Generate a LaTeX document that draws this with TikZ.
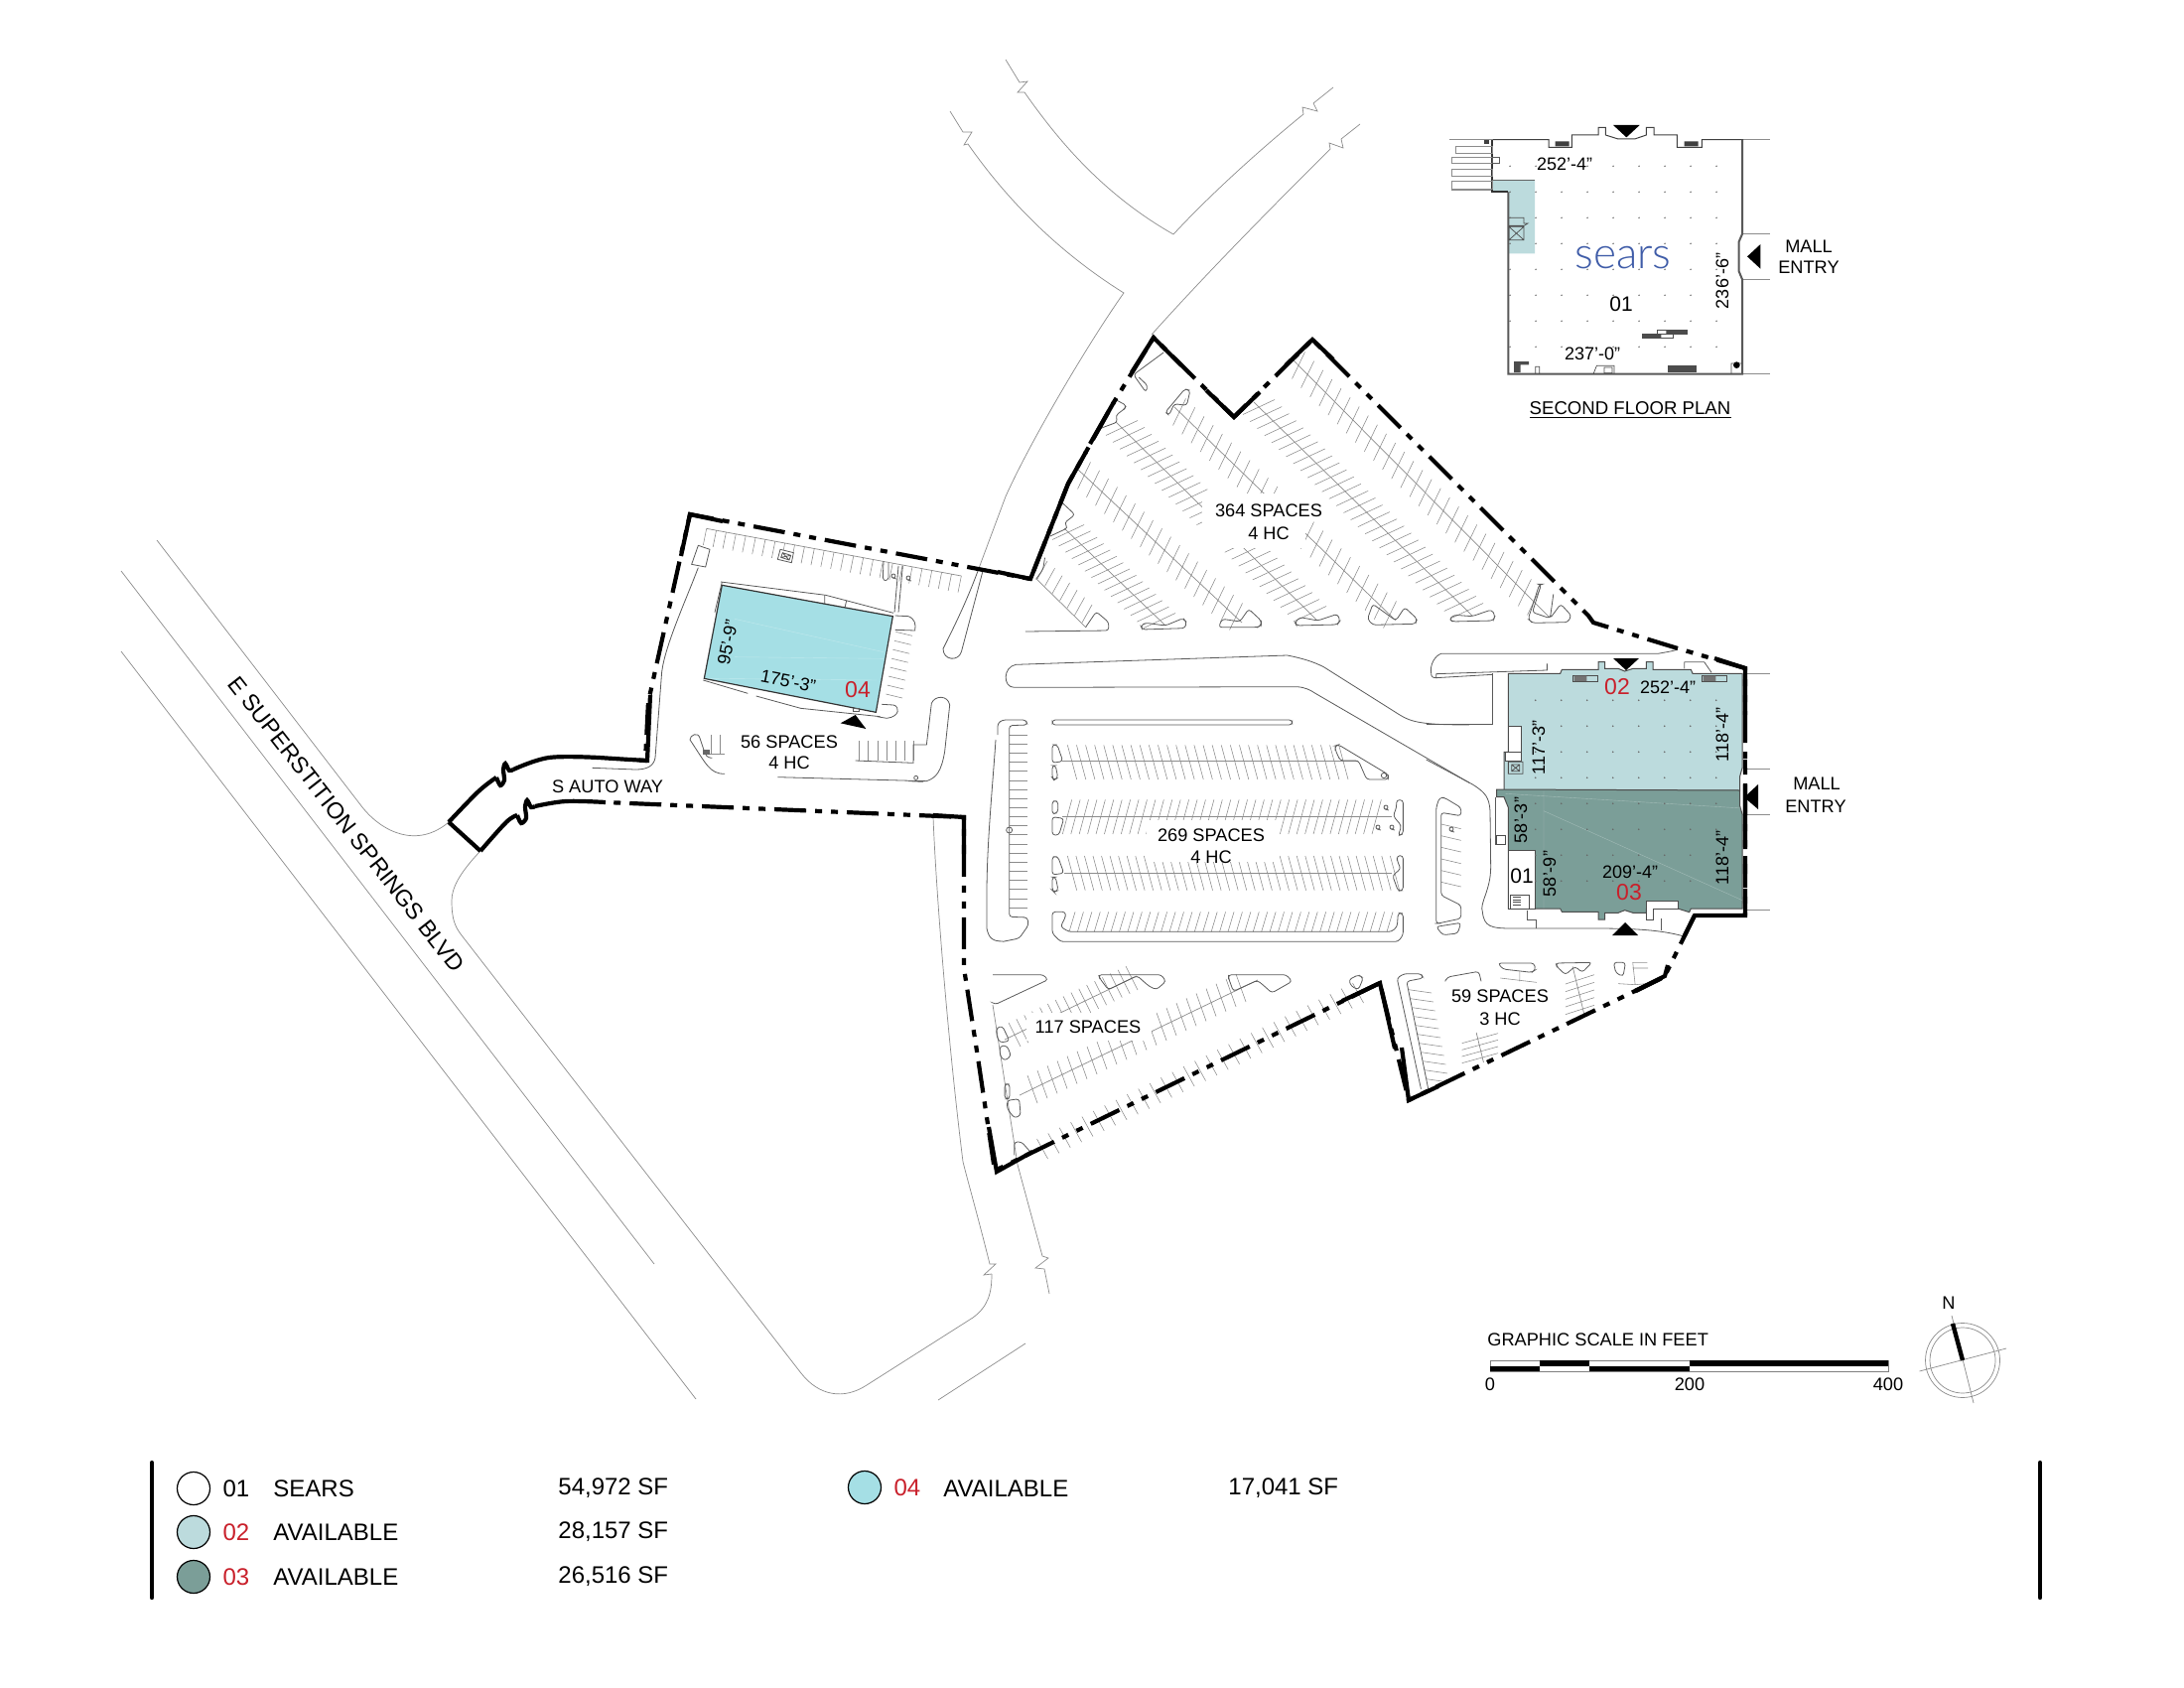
\documentclass[tikz,border=0pt]{standalone}
\usepackage{fontspec}
\setmainfont{Liberation Sans}
\newfontfamily\logofont{Lato Light}
\usetikzlibrary{positioning}
\definecolor{suitetwo}{HTML}{BCDBDD}
\definecolor{suitethree}{HTML}{7B9E98}
\definecolor{suitefour}{HTML}{A5DFE5}
\definecolor{suitered}{HTML}{C9202B}
\definecolor{searsblue}{HTML}{3F5CA8}
\definecolor{roadgray}{HTML}{8C8C8C}
\definecolor{curbgray}{HTML}{5A5A5A}
\newcommand{\stalls}[7]{%
  \foreach \i in {0,...,#5}{%
    \pgfmathsetmacro\sx{#1+(#3-#1)/#5*\i}%
    \pgfmathsetmacro\sy{#2+(#4-#2)/#5*\i}%
    \draw[stall] (\sx-#6,\sy-#7) -- (\sx+#6,\sy+#7);
  }%
}
\newcommand{\hcmark}[2]{\draw[curb] (#1,#2) circle (2) (#1-1,#2+2) -- (#1+3,#2+3);}
\tikzset{
  road/.style={draw=roadgray,line width=.35pt},
  curb/.style={draw=curbgray,line width=.4pt},
  island/.style={draw=curbgray,line width=.4pt,rounded corners=1.5pt},
  stall/.style={draw=roadgray,line width=.28pt},
  spine/.style={draw=roadgray,line width=.35pt},
  bound/.style={line width=2.1pt,dash pattern=on 16pt off 4.5pt on 3.5pt off 4.5pt on 3.5pt off 4.5pt},
  boundsolid/.style={line width=2.1pt,line join=miter},
  entry/.style={fill=black},
  wall/.style={draw=black!75,line width=.5pt},
  inplan/.style={shift={(1420,110)},x=.16667pt,y=-.16667pt},
  instore/.style={shift={(1440,640)},x=.16667pt,y=-.16667pt},
  inpad/.style={shift={(640,500)},x=.16667pt,y=-.16667pt},
  inmid/.style={shift={(1000,640)},x=.16667pt,y=-.16667pt},
  inlot/.style={shift={(1040,330)},x=.17857pt,y=-.16667pt},
  insouth/.style={shift={(1000,960)},x=.24237pt,y=-.16667pt},
  dimtext/.style={font=\fontsize{9}{11}\selectfont},
  suitenum/.style={font=\fontsize{11.5}{13}\selectfont,text=suitered},
  legtext/.style={anchor=west,font=\fontsize{12}{14}\selectfont},
  legdot/.style={circle,draw=black,line width=.6pt,minimum size=16.5pt}
}
\begin{document}
\begin{tikzpicture}[
    x=.5pt,y=-.5pt,
    every node/.style={font=\fontsize{9.1}{11}\selectfont,inner sep=0pt}
  ]
    \useasboundingbox (0,0) rectangle (2200,1700);
    \fill[white] (0,0) rectangle (2200,1700);

    % Streets
    \draw[road] (122,575) -- (659,1273);
    \draw[road] (122,656) -- (701,1409);
    \draw[road] (158,544) -- (365,813) .. controls (385,838) and (420,855) .. (452,828);
    \draw[road] (484,857) .. controls (462,880) and (455,895) .. (455,907) .. controls (455,925) and (458,933) .. (465,942) -- (807,1383)
      .. controls (825,1406) and (850,1410) .. (873,1395) -- (980,1327) .. controls (995,1316) and (999,1303) .. (999,1283);
    \draw[road] (999,1283) -- (991,1284) -- (1003,1273) -- (997,1273)
      .. controls (985,1225) and (975,1190) .. (970,1170) .. controls (955,1050) and (943,900) .. (940,823);
    \draw[road] (1000,1012) -- (1025,1173) -- (1050,1265) -- (1056,1267) -- (1043,1277) -- (1052,1278) -- (1057,1303);
    \draw[road] (1033,1353) -- (945,1410);
    \draw[road] (1013,60) -- (1027,83) -- (1035,82) -- (1025,93) -- (1032,93)
      .. controls (1065,140) and (1110,195) .. (1182,236) .. controls (1220,195) and (1270,150) .. (1313,115)
      -- (1312,108) -- (1327,112) -- (1323,104) -- (1343,88);
    \draw[road] (957,112) -- (970,133) -- (979,133) -- (971,146) -- (975,145)
      .. controls (1010,195) and (1060,250) .. (1132,295) .. controls (1100,340) and (1040,440) .. (1013,500) -- (985,575);
    \draw[road] (1160,337) .. controls (1220,270) and (1290,200) .. (1340,150)
      -- (1339,144) -- (1353,149) -- (1351,140) -- (1370,125);

    % 364 spaces
    \draw[spine] (1044,583) -- (1094,632);
    \stalls{1050}{574}{1095}{618}{6}{5}{-9}
    \draw[spine] (1072,532) -- (1174,630);
    \stalls{1076}{536}{1168}{625}{14}{16}{-7.5}
    \draw[spine] (1086,473) -- (1251,627);
    \stalls{1092}{479}{1245}{621}{17}{6.5}{-13.5}
    \draw[spine] (1124,425) -- (1327,625);
    \stalls{1130}{431}{1320}{618}{27}{16}{-7.5}
    \draw[spine] (1183,410) -- (1406,625);
    \stalls{1188}{415}{1400}{619}{23}{6.5}{-13.5}
    \draw[spine] (1263,405) -- (1483,620);
    \stalls{1268}{410}{1478}{615}{29}{16}{-7.5}
    \draw[spine] (1302,362) -- (1561,622);
    \stalls{1308}{368}{1545}{606}{26}{6.5}{-13.5}
    \fill[white] (1211,497) rectangle (1315,552);
    \begin{scope}[inlot]
      \draw[island] (-20,918) -- (215,915) -- (215,890) -- (180,858) -- (150,905);
      \draw[island] (305,900) -- (320,892) -- (375,900) -- (425,878) -- (435,890) -- (430,908) -- (310,912) -- cycle;
      \draw[island] (525,905) -- (535,880) -- (585,888) -- (610,850) -- (645,885) -- (645,900) -- (635,905) -- cycle;
      \draw[island] (740,890) -- (755,875) -- (805,885) -- (860,865) -- (868,885) -- (860,897) -- (745,900) -- cycle;
      \draw[island] (945,880) -- (960,835) -- (1025,885) -- (1050,845) -- (1085,880) -- (1080,895) -- (960,898) -- cycle;
      \draw[island] (1175,880) -- (1190,868) -- (1240,872) -- (1295,852) -- (1305,870) -- (1300,885) -- (1185,888) -- cycle;
      \draw[island] (1398,880) -- (1430,775) -- (1435,775) -- (1410,860) -- (1460,878) -- (1470,800) -- (1460,878) -- (1490,835) -- (1520,870) -- (1510,890) -- (1410,892) -- cycle;
      \draw[island] (370,75) -- (285,142) -- (320,195) -- (325,175) -- (300,150);
      \draw[island] (230,215) -- (265,235) -- (260,245) -- (235,265) -- (240,285) -- (190,305);
      \draw[island] (85,530) -- (120,565) -- (90,590) -- (100,605) -- (50,630);
      \draw[island] (375,255) -- (395,230) -- (430,185) -- (445,190) -- (435,235) -- (400,230) -- (385,265) -- cycle;
      \draw[island] (35,695) -- (30,730) -- (10,760);
    \end{scope}

    % 269 spaces
    \begin{scope}[inmid]
      \draw[curb] (65,157) .. controls (30,157) and (30,95) .. (70,88) -- (890,60)
        .. controls (940,70) and (970,80) .. (1000,95) -- (1230,240) .. controls (1265,262) and (1300,270) .. (1440,270);
      \draw[curb] (65,157) -- (920,155) .. controls (945,157) and (960,165) .. (975,175) -- (1440,445);
      \draw[island] (180,255) -- (905,255) -- (905,270) -- (180,270) -- cycle;
      \draw[spine] (210,380) -- (1105,380) (210,548) -- (1205,548) (215,718) -- (1205,718);
      \stalls{240}{383}{1060}{383}{30}{14}{52}
      \stalls{225}{548}{1160}{548}{37}{14}{-52}
      \stalls{240}{718}{1215}{718}{38}{14}{52}
      \stalls{240}{865}{1200}{865}{38}{9}{-30}
      \stalls{78}{300}{78}{822}{19}{28}{0}
      \fill[white] (465,558) rectangle (860,685);
      \draw[island] (180,330) -- (195,330) -- (212,380) -- (180,385) -- cycle;
      \draw[island] (180,393) -- (190,393) -- (197,430) -- (185,437) -- (180,430) -- cycle;
      \draw[island] (180,500) -- (197,500) -- (197,535) -- (180,540) -- cycle;
      \draw[island] (180,548) -- (215,553) -- (200,603) -- (180,603) -- cycle;
      \draw[island] (180,668) -- (197,668) -- (215,718) -- (180,723) -- cycle;
      \draw[island] (180,730) -- (190,730) -- (198,770) -- (185,775) -- (180,770) -- cycle;
      \draw[island] (1220,497) -- (1240,497) -- (1240,600) -- (1225,605) -- (1235,575) -- (1210,545) -- (1220,520) -- cycle;
      \draw[island] (1222,665) -- (1240,665) -- (1240,770) -- (1225,772) -- (1208,725) -- (1233,705) -- (1222,680) -- cycle;
      \draw[island] (1035,333) -- (1045,330) -- (1195,420) -- (1195,435) -- (1130,435) -- (1105,378) -- (1050,378) -- (1035,345) -- cycle;
      \draw[curb] (1182,423) circle (8);
      \draw[island] (180,835) -- (220,835) -- (220,850) -- (205,880) -- (230,895) -- (1205,895) -- (1222,880) -- (1225,838) -- (1240,840) -- (1240,905) -- (1225,925) -- (205,925) -- (180,900) -- cycle;
      \draw[island] (15,300) -- (15,265) -- (30,255) -- (100,255) -- (105,270) -- (50,272) -- (50,850) -- (105,852) -- (108,875) -- (80,915) -- (30,925);
      \draw[island] (1340,520) -- (1350,490) -- (1365,490) -- (1415,520) -- (1415,545) -- (1355,535) -- (1355,785) -- (1415,815) -- (1415,855) -- (1345,870) -- (1340,870) -- cycle;
      \draw[island] (1340,880) -- (1415,868) -- (1405,900) -- (1360,905) -- cycle;
      \stalls{1385}{577}{1385}{752}{5}{30}{7}
      \draw[curb] (50,588) circle (9);
    \end{scope}
    \draw[curb] (1003,745) .. controls (1000,790) and (994,850) .. (994,900) -- (994,935) .. controls (996,945) and (1000,948) .. (1010,948);
    \hcmark{1396}{813}
    \hcmark{1388}{833}
    \hcmark{1402}{833}
    \hcmark{1462}{835}

    % 117 spaces
    \draw[spine] (1012,1047) -- (1145,983);
    \stalls{1022}{1042}{1140}{985}{15}{6}{12}
    \draw[spine] (1027,1103) -- (1267,987);
    \stalls{1040}{1097}{1250}{995}{21}{5}{14}
    \stalls{1050}{1157}{1368}{1000}{28}{-5.5}{-10}
    \fill[white] (1034,1020) rectangle (1160,1048);
    \begin{scope}[insouth]
      \draw[island] (0,65) -- (105,65) -- (115,80) -- (5,155) -- (0,150);
      \draw[island] (220,65) -- (350,65) -- (360,85) -- (340,110) -- (325,100) -- (300,68) -- (240,110) -- (222,75) -- cycle;
      \draw[island] (490,65) -- (610,65) -- (622,85) -- (580,120) -- (565,100) -- (550,82) -- (500,115) -- (490,75) -- cycle;
      \draw[island] (740,80) -- (760,65) -- (770,75) -- (760,110) -- (745,100) -- cycle;
      \draw[island] (8,225) -- (20,220) -- (35,265) -- (15,270) -- (8,250) -- cycle;
      \draw[island] (15,280) -- (30,280) -- (38,310) -- (25,325) -- (15,310) -- cycle;
      \draw[island] (25,395) -- (35,395) -- (35,440) -- (25,440) -- cycle;
      \draw[island] (30,445) -- (55,440) -- (58,490) -- (45,498) -- (30,470) -- cycle;
      \draw[island] (45,610) -- (45,570) -- (60,570) -- (78,600);
      % 59 spaces
      \draw[island] (890,410) -- (840,75) -- (855,62) -- (890,62) -- (895,75) -- (860,85) -- (905,410);
      \foreach \sy in {110,137,...,385}{%
        \pgfmathsetmacro\sx{860+(\sy-80)*.136}
        \draw[stall] (\sx,\sy) -- (\sx+48,\sy+10);
      }
      \draw[spine] (1005,240) -- (1020,330);
      \foreach \sy in {272,292,312,332}{\draw[stall] (975,\sy) -- (1050,\sy-30);}
      \draw[spine] (1205,40) -- (1230,190);
      \foreach \sy in {93,116,139,162,185}{\draw[stall] (1190,\sy) -- (1250,\sy-28);}
      \draw[island] (940,85) -- (945,72) -- (1010,55) -- (1015,85);
      \draw[island] (1050,30) -- (1125,30) -- (1128,50) -- (1120,58) -- (1060,48) -- cycle;
      \draw[stall] (1055,75) -- (1130,88) (1095,55) -- (1095,85);
      \draw[island] (1170,30) -- (1245,28) -- (1225,58) -- (1210,40) -- (1190,65) -- (1172,40) -- cycle;
      \draw[island] (1290,28) -- (1315,28) -- (1310,70) -- (1295,60) -- cycle;
      \draw[stall] (1330,28) -- (1335,95) -- (1300,92) (1330,28) -- (1360,28) (1330,45) -- (1362,45) (1335,95) -- (1375,90);
    \end{scope}

    % Pad site
    \begin{scope}[inpad]
      \draw[spine] (215,97) -- (985,240);
      \stalls{210}{122}{980}{265}{26}{5}{-25}
      \draw[curb,fill=white] (438,160) -- (478,170) -- (472,200) -- (430,190) -- cycle (445,170) -- (470,178) -- (465,192) -- (440,184) -- cycle (445,170) -- (465,192) (470,178) -- (440,184);
      \draw[curb,fill=white] (190,148) -- (225,160) -- (212,213) -- (170,205) -- cycle;
      \draw[curb] (1035,225) .. controls (1000,320) and (960,400) .. (930,460) .. controls (930,495) and (975,500) .. (985,470) -- (1050,225);
      \draw[curb] (190,215) .. controls (150,320) and (90,450) .. (80,530) -- (60,790) .. controls (55,815) and (35,825) .. (0,825);
      \draw[curb] (-130,820) -- (0,825);
      \draw[curb] (258,258) -- (575,298) -- (640,315) -- (780,352);
      \draw[curb] (262,258) -- (240,350);
      \draw[curb] (205,555) -- (340,595) (365,603) -- (500,640) -- (740,665);
      \draw[curb] (572,298) -- (572,325) (638,315) -- (632,340);
      \draw[curb] (785,360) -- (825,362) .. controls (845,370) and (848,385) .. (845,405) -- (785,403);
      \draw[curb] (745,628) -- (780,630) .. controls (800,635) and (800,665) .. (760,670) -- (730,665);
      \stalls{812}{415}{782}{603}{7}{25}{6}
      \draw[curb] (795,210) -- (783,350) (808,210) -- (795,350) (750,195) -- (748,245) .. controls (750,258) and (762,255) .. (765,245) -- (765,200);
      % 56 spaces
      \stalls{677}{768}{840}{768}{6}{0}{30}
      \draw[curb] (665,798) -- (840,805) -- (840,750) -- (880,750) -- (895,625)
        .. controls (905,600) and (945,600) .. (950,630) -- (935,770) .. controls (925,830) and (910,850) .. (880,860) -- (430,848);
      \draw[curb] (270,838) .. controls (225,838) and (215,810) .. (165,735) .. controls (165,720) and (190,710) .. (195,730) -- (210,775) .. controls (215,790) and (230,790) .. (232,790);
      \draw[stall] (228,720) -- (228,778) (255,720) -- (255,778) (210,778) -- (270,778);
      \draw[curb] (848,850) circle (6) (825,860) -- (870,862);
      \fill[black!60] (205,765) rectangle (225,780);
      % Suite 04
      \draw[fill=suitefour,draw=black!80,line width=.6pt] (262,268) -- (778,362) -- (727,652) -- (208,550) -- cycle;
      \draw[white,line width=.2pt,opacity=.3] (300,370) -- (750,470) (300,485) -- (750,490) (220,550) -- (730,555);
      \fill[entry] (620,685) -- (697,702) -- (665,660) -- cycle;
      \draw[curb] (658,640) rectangle (676,650);
    \end{scope}
    \hcmark{900}{580}
    \hcmark{915}{582}

    % Store
    \begin{scope}[instore]
      \draw[curb] (-10,375) -- (130,450) .. controls (170,475) and (180,490) .. (183,530) -- (185,700) .. controls (185,770) and (150,810) .. (160,835) .. controls (165,880) and (185,885) .. (250,885) -- (500,885) .. controls (620,885) and (700,890) .. (765,908);
      \draw[curb] (-10,268) -- (190,268) -- (190,115);
      \draw[curb] (5,115) .. controls (0,90) and (15,62) .. (35,55) -- (690,55) .. controls (715,50) and (735,48) .. (750,42);
      \draw[curb] (20,128) -- (20,116) -- (355,105) -- (355,85) (5,115) .. controls (5,125) and (10,128) .. (20,128) -- (190,118);
      \draw[curb] (770,80) -- (830,80) -- (852,112) (770,80) -- (770,100);
      \draw[curb] (200,488) -- (200,630) -- (230,630) -- (230,605) -- (200,605);
      \draw[curb] (295,830) -- (295,860) -- (322,860) -- (322,885) (700,855) -- (700,890);
      \draw[fill=suitetwo,draw=black!70,line width=.5pt] (238,115) -- (395,115) -- (400,103) -- (510,103) -- (510,80) -- (530,80) -- (530,100) -- (570,100) -- (590,108) -- (615,100) -- (655,100) -- (655,80) -- (675,80) -- (675,103) -- (790,103) -- (795,115) -- (945,115) -- (945,400) -- (938,425) -- (938,468) -- (225,468) -- (225,352) -- (238,352) -- cycle;
      \draw[fill=suitethree,draw=black!70,line width=.5pt] (203,465) -- (938,468) -- (938,515) -- (945,540) -- (945,825) -- (790,825) -- (785,836) -- (750,825) -- (655,825) -- (655,838) -- (615,838) -- (590,830) -- (570,838) -- (530,838) -- (530,858) -- (510,858) -- (510,835) -- (400,835) -- (395,825) -- (238,825) -- (238,520) -- (225,488) -- (203,488) -- cycle;
      \draw[white,line width=.2pt,opacity=.3] (345,470) -- (345,825) (345,530) -- (945,800) (230,478) -- (945,522);
      \draw[black!70,fill=white,line width=.4pt] (238,275) rectangle (277,352);
      \draw[black!70,fill=white,line width=.4pt] (228,352) rectangle (277,378);
      \draw[black!70,line width=.4pt] (238,382) rectangle (282,418) (248,390) rectangle (272,410) (248,390) -- (272,410) (272,390) -- (248,410);
      \draw[black!70,fill=white,line width=.4pt] (238,648) rectangle (318,825);
      \draw[black!70,line width=.35pt] (245,785) rectangle (300,825);
      \foreach \sy in {790,798,806,814}{\draw[black!70,line width=.3pt] (252,\sy) -- (275,\sy);}
      \draw[black!70,fill=white,line width=.4pt] (655,803) -- (750,803) -- (750,825) -- (675,825) -- (675,860) -- (655,860) -- cycle;
      \draw[black!70,line width=.35pt] (432,120) rectangle (508,140) (822,120) rectangle (898,140);
      \fill[black!55] (437,122) rectangle (475,138) (827,122) rectangle (865,138);
      \draw[black!70,fill=white,line width=.3pt] (203,605) rectangle (228,630);
    \end{scope}
    \foreach \cx in {0,...,7}{%
      \foreach \cy in {0,...,7}{%
        \fill[black!60] (1546.7+26*\cx,705.3+26*\cy) circle (.9);
      }
    }
    \draw[road] (1758,678) -- (1783,678) (1758,774) -- (1783,774) (1758,820) -- (1783,820) (1758,916) -- (1783,916);
    \fill[entry] (1625,663) -- (1651,663) -- (1638,675) -- cycle;
    \fill[entry] (1624,942) -- (1650,942) -- (1637,929) -- cycle;

    % Site boundary
    \draw[bound] (603,763) -- (650,766) -- (653,707) -- (695,518) -- (1038,583) -- (1076,487) -- (1122,405) -- (1162,340) -- (1243,420) -- (1322,342)
      -- (1600,620) -- (1605,627) -- (1690,653) -- (1758,673) -- (1758,922);
    \draw[bound] (1707,922) -- (1677,983) -- (1674,985) -- (1419,1108) -- (1390,990) -- (1390,990);
    \draw[bound] (1390,990) -- (1002,1179) -- (985,1065) -- (971,975) -- (971,823) -- (610,808);
    % solid runs
    \draw[boundsolid] plot[smooth,tension=.6] coordinates {(452,828) (482,797) (500,783)};
    \draw[boundsolid] plot[smooth,tension=.6] coordinates {(517,775) (553,763) (603,763)};
    \draw[boundsolid] plot[smooth,tension=.5] coordinates {(500,783) (504,791) (508,786) (507,775) (509,769) (513,776) (517,775)};
    \draw[boundsolid] plot[smooth,tension=.6] coordinates {(484,857) (510,828) (521,821)};
    \draw[boundsolid] plot[smooth,tension=.6] coordinates {(539,812) (570,807) (610,808)};
    \draw[boundsolid] plot[smooth,tension=.5] coordinates {(521,821) (525,829) (530,824) (529,813) (531,806) (535,813) (539,812)};
    \draw[boundsolid] (452,828) -- (484,857);
    \draw[boundsolid] (635,765) -- (652,766) -- (655,700);
    \draw[boundsolid] (686,560) -- (695,518) -- (728,525);
    \draw[boundsolid] (1005,576) -- (1038,583) -- (1076,487) -- (1094,455);
    \draw[boundsolid] (1098,447) -- (1122,405);
    \draw[boundsolid] (1140,375) -- (1162,340) -- (1190,368);
    \draw[boundsolid] (1215,393) -- (1243,420) -- (1269,395);
    \draw[boundsolid] (1295,368) -- (1322,342) -- (1343,362);
    \draw[boundsolid] (1727,663) -- (1758,673) -- (1758,720);
    \draw[boundsolid] (1758,738) -- (1758,748) (1758,765) -- (1758,775);
    \draw[boundsolid] (1758,790) -- (1758,855) (1758,870) -- (1758,880) (1758,895) -- (1758,922) -- (1707,922) -- (1697,942);
    \draw[boundsolid] (1680,972) -- (1677,983) -- (1647,998);
    \draw[boundsolid] (1648,998) -- (1674,985);
    \draw[boundsolid] (1449,1094) -- (1419,1108) -- (1412,1055);
    \draw[boundsolid] (1405,1056) -- (1390,990) -- (1352,1008);
    \draw[boundsolid] (1040,1160) -- (1004,1180) -- (996,1135);
    \draw[boundsolid] (971,860) -- (971,823) -- (940,821);

    % Floor plan
    \begin{scope}[inplan]
      \draw[fill=suitetwo,draw=none] (250,213) -- (378,213) -- (378,436) -- (298,436) -- (298,250) -- (250,250) -- cycle;
      \draw[road] (120,92) -- (250,92) (1008,92) -- (1088,92) (1008,800) -- (1090,800) (1008,377) -- (1090,377) (1008,514) -- (1090,514) (125,243) -- (250,243);
      \draw[wall] (250,92) -- (420,92) -- (420,115) -- (490,115) -- (490,78) -- (570,78) -- (570,55) -- (592,55) -- (592,78) -- (630,90) -- (680,90) -- (715,78) -- (715,55) -- (738,55) -- (738,78) -- (808,78) -- (808,115) -- (883,115) -- (883,92) -- (1008,92);
      \draw[black!65,line width=1pt] (1005,92) -- (1005,377) -- (995,400) -- (995,490) -- (1005,514) -- (1005,800) -- (298,800) -- (298,250);
      \draw[black!80,line width=.9pt] (298,250) -- (250,250) -- (250,92);
      \draw[black!60,line width=.3pt] (250,213) -- (378,213);
      \draw[road] (140,113) rectangle (250,133) (128,145) rectangle (250,162) (128,180) rectangle (250,202) (128,216) rectangle (250,240);
      \draw[black!70,line width=.35pt] (300,328) -- (345,328) -- (345,345) -- (357,345) -- (345,352) -- (300,352) (300,355) rectangle (345,395) (300,355) -- (345,395) (345,355) -- (300,395);
      \draw[curb] (250,145) rectangle (272,162);
      \fill[black!75] (440,97) rectangle (482,112) (830,97) rectangle (872,112);
      \fill[black!75] (225,92) rectangle (240,105);
      \fill[entry] (615,48) -- (695,48) -- (655,85) -- cycle;
      \fill[entry] (1020,445) -- (1060,408) -- (1060,482) -- cycle;
      \draw[black!70,fill=white,line width=.35pt] (748,667) rectangle (838,680) (702,680) rectangle (795,692);
      \fill[black!70] (775,669) rectangle (838,678) (702,681) rectangle (760,691);
      \fill[black!70] (315,762) rectangle (360,772) (315,772) rectangle (335,795);
      \draw[black!70,line width=.35pt] (380,800) -- (380,778) -- (392,778) -- (392,800) (555,800) -- (565,775) -- (618,775) -- (618,800) (588,780) rectangle (612,797) (972,800) -- (972,768) -- (1005,768);
      \fill[black!70] (780,775) rectangle (868,795);
      \fill[black] (988,773) circle (10);
    \end{scope}
    \foreach \cx in {0,...,8}{%
      \foreach \cy in {0,...,7}{%
        \fill[black!60] (1521+26*\cx,167.3+26*\cy) circle (.8);
      }
    }

    % Labels
    \node (lot364a) at (1278,514) {364 SPACES};
    \node (lot364b) at (1278,537) {4 HC};
    \node (lot269a) at (1220,841) {269 SPACES};
    \node (lot269b) at (1220,863) {4 HC};
    \node (lot117) at (1096,1034) {117 SPACES};
    \node (lot59a) at (1511,1003) {59 SPACES};
    \node (lot59b) at (1511,1026) {3 HC};
    \node (lot56a) at (795,747) {56 SPACES};
    \node (lot56b) at (795,768) {4 HC};
    \node (autoway) at (612,792) {S AUTO WAY};
    \node[rotate=-52,font=\fontsize{11.6}{13}\selectfont] (blvd) at (349,830) {E SUPERSTITION SPRINGS BLVD};
    \node (mall1a) at (1822,248) {MALL};
    \node (mall1b) at (1822,269) {ENTRY};
    \node (mall2a) at (1830,789) {MALL};
    \node (mall2b) at (1829,812) {ENTRY};
    \node[font=\fontsize{9.3}{11}\selectfont] (plantitle) at (1642,411) {SECOND FLOOR PLAN};
    \draw[line width=.5pt] (1541,421) -- (1744,421);
    \node[dimtext] (dimp1) at (1576,165) {252'-4"};
    \node[dimtext,rotate=90] (dimp2) at (1735,283) {236'-6"};
    \node[dimtext] (dimp3) at (1604,356) {237'-0"};
    \node[font=\fontsize{10.5}{12}\selectfont] (numsears) at (1633,306) {01};
    \node[text=searsblue,font=\logofont\fontsize{22}{24}\selectfont] (logo) at (1635,260) {sears};
    \node[suitenum] (num02) at (1629,692) {02};
    \node[dimtext] (dims1) at (1680,692) {252'-4"};
    \node[dimtext,rotate=90] (dims2) at (1550,753) {117'-3"};
    \node[dimtext,rotate=90] (dims3) at (1735,740) {118'-4"};
    \node[dimtext,rotate=90] (dims4) at (1532,826) {58'-3"};
    \node[dimtext,rotate=90] (dims5) at (1561,880) {58'-9"};
    \node[font=\fontsize{10.5}{12}\selectfont] (num01) at (1533,882) {01};
    \node[dimtext] (dims6) at (1642,878) {209'-4"};
    \node[suitenum] (num03) at (1641,899) {03};
    \node[dimtext,rotate=90] (dims7) at (1735,864) {118'-4"};
    \fill[entry] (1757,803) -- (1771,790) -- (1771,815) -- cycle;
    \node[dimtext,rotate=79] (dimd1) at (733,647) {95'-9"};
    \node[dimtext,rotate=-11] (dimd2) at (794,686) {175'-3"};
    \node[suitenum] (num04) at (864,695) {04};

    % Graphic scale
    \draw[draw=black!50,fill=white,line width=.3pt] (1501,1370) rectangle (1902,1381);
    \fill (1501,1375.5) rectangle (1551,1381);
    \fill (1551,1370) rectangle (1601,1375.5);
    \fill (1601,1375.5) rectangle (1702,1381);
    \fill (1702,1370) rectangle (1902,1375.5);
    \node[anchor=west] (scaletitle) at (1498,1349.5) {GRAPHIC SCALE IN FEET};
    \node (scale0) at (1501,1394) {0};
    \node (scale200) at (1702,1394) {200};
    \node (scale400) at (1902,1394) {400};

    % North arrow
    \draw[road] (1977,1370) circle (37.5) (1977,1370) circle (33);
    \draw[road] (1966,1325) -- (1988,1413) (1933.5,1381) -- (2021,1358);
    \draw[line width=2.2pt] (1967,1333) -- (1977,1370);
    \node (north) at (1963,1312) {N};

    % Legend
    \draw[line width=2.2pt,line cap=round] (153,1473) -- (153,1609);
    \draw[line width=2.2pt,line cap=round] (2055,1473) -- (2055,1609);
    \node[legdot] (dot01) at (195,1499) {};
    \node[legtext,right=6pt of dot01] (leg01) {01};
    \node[legtext] (name01) at (275,1499) {SEARS};
    \node[legtext] (area01) at (562,1499) {54,972 SF};
    \node[legdot,fill=suitetwo] (dot02) at (195,1543) {};
    \node[legtext,right=6pt of dot02,text=suitered] (leg02) {02};
    \node[legtext] (name02) at (275,1543) {AVAILABLE};
    \node[legtext] (area02) at (562,1543) {28,157 SF};
    \node[legdot,fill=suitethree] (dot03) at (195,1588) {};
    \node[legtext,right=6pt of dot03,text=suitered] (leg03) {03};
    \node[legtext] (name03) at (275,1588) {AVAILABLE};
    \node[legtext] (area03) at (562,1588) {26,516 SF};
    \node[legdot,fill=suitefour] (dot04) at (871,1498) {};
    \node[legtext,right=6pt of dot04,text=suitered] (leg04) {04};
    \node[legtext] (name04) at (950,1499) {AVAILABLE};
    \node[legtext] (area04) at (1237,1499) {17,041 SF};
\end{tikzpicture}
\end{document}
